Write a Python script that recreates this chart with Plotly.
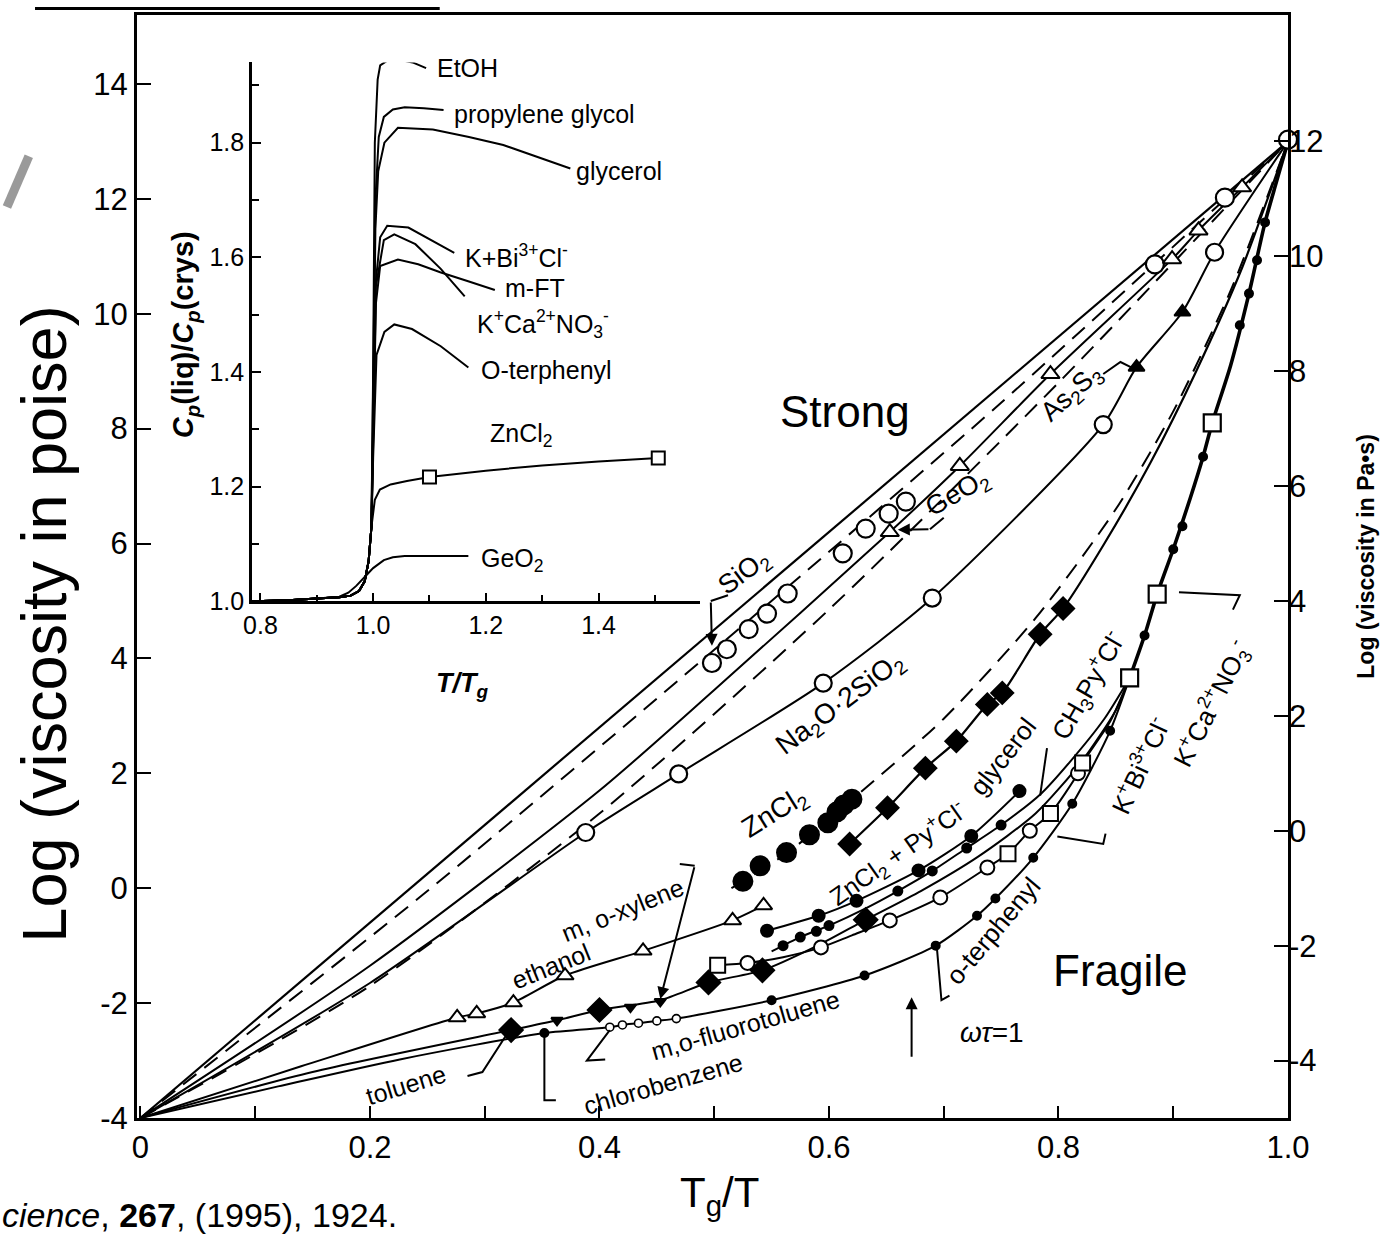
import plotly.graph_objects as go

# ---------------- tick values / labels ----------------
x_tick_vals = [0, 0.2, 0.4, 0.6, 0.8, 1.0]
x_tick_text = ["0", "0.2", "0.4", "0.6", "0.8", "1.0"]
x_minor_vals = [0.1, 0.3, 0.5, 0.7, 0.9]
y_poise_ticks = [-4, -2, 0, 2, 4, 6, 8, 10, 12, 14]
y_poise_text = ["-4", "-2", "0", "2", "4", "6", "8", "10", "12", "14"]
y_pas_ticks = [-4, -2, 0, 2, 4, 6, 8, 10, 12]
y_pas_text = ["-4", "-2", "0", "2", "4", "6", "8", "10", "12"]
inset_x_vals = [0.8, 1.0, 1.2, 1.4]
inset_x_text = ["0.8", "1.0", "1.2", "1.4"]
inset_x_minor = [0.9, 1.1, 1.3, 1.5]
inset_y_vals = [1.0, 1.2, 1.4, 1.6, 1.8]
inset_y_text = ["1.0", "1.2", "1.4", "1.6", "1.8"]
inset_y_minor = [1.1, 1.3, 1.5, 1.7, 1.9]

# ---------------- main plot data: x = Tg/T, y = log(viscosity / poise) ----------------
sio2_line_x = [0, 0.25, 0.5, 0.75, 1.0]
sio2_line_y = [-4, 0.25, 4.5, 8.75, 13]
sio2_pts_x = [0.498, 0.511, 0.530, 0.546, 0.564, 0.612, 0.632, 0.652, 0.667, 0.884, 0.945, 1.0]
sio2_pts_y = [3.92, 4.16, 4.51, 4.78, 5.13, 5.83, 6.26, 6.52, 6.73, 10.86, 12.02, 13.03]

dash_upper_x = [0, 0.25, 0.5, 0.75, 1.0]
dash_upper_y = [-4, -0.05, 4.15, 8.45, 13]

geo2_line_x = [0, 0.2, 0.4, 0.5, 0.653, 0.714, 0.793, 0.899, 0.922, 0.96, 1.0]
geo2_line_y = [-4, -1.35, 1.7, 3.45, 6.2, 7.35, 8.95, 10.95, 11.45, 12.2, 13]
geo2_pts_x = [0.653, 0.714, 0.793, 0.899, 0.922, 0.96]
geo2_pts_y = [6.2, 7.35, 8.95, 10.95, 11.45, 12.2]

dash_lower_x = [0, 0.2, 0.4, 0.6, 0.8, 1.0]
dash_lower_y = [-4, -1.7, 1.3, 4.85, 8.8, 13]

na2o_line_x = [0, 0.2, 0.388, 0.469, 0.595, 0.69, 0.839, 0.868, 0.908, 0.936, 1.0]
na2o_line_y = [-4, -1.65, 0.97, 1.99, 3.57, 5.05, 8.07, 9.07, 10.03, 11.07, 13]
na2o_pts_x = [0.388, 0.469, 0.595, 0.69, 0.839, 0.936]
na2o_pts_y = [0.97, 1.99, 3.57, 5.05, 8.07, 11.07]
as2s3_pts_x = [0.868, 0.908]
as2s3_pts_y = [9.07, 10.03]

zncl2_dash_x = [0.515, 0.525, 0.564, 0.62, 0.7, 0.78, 0.85, 0.9, 0.95, 1.0]
zncl2_dash_y = [0.0, 0.12, 0.62, 1.54, 2.95, 4.7, 6.6, 8.3, 10.4, 13]
zncl2_pts_x = [0.525, 0.540, 0.563, 0.583, 0.599, 0.607, 0.613, 0.620]
zncl2_pts_y = [0.12, 0.39, 0.62, 0.93, 1.14, 1.33, 1.45, 1.55]

glycerol_line_x = [0.618, 0.651, 0.684, 0.711, 0.738, 0.751, 0.784, 0.804, 0.84, 0.88, 0.92, 0.96, 1.0]
glycerol_line_y = [0.77, 1.40, 2.09, 2.56, 3.2, 3.4, 4.42, 4.87, 6.0, 7.4, 9.0, 10.8, 13]
glycerol_pts_x = [0.618, 0.651, 0.684, 0.711, 0.738, 0.751, 0.784, 0.804]
glycerol_pts_y = [0.77, 1.40, 2.09, 2.56, 3.2, 3.4, 4.42, 4.87]

zncl2py_x = [0.546, 0.591, 0.624, 0.678, 0.724, 0.766]
zncl2py_y = [-0.74, -0.48, -0.22, 0.31, 0.91, 1.69]

ethanol_line_x = [0, 0.14, 0.276, 0.293, 0.325, 0.370, 0.438, 0.516, 0.543]
ethanol_line_y = [-4, -3.1, -2.25, -2.18, -1.99, -1.52, -1.09, -0.56, -0.30]
ethanol_pts_x = [0.276, 0.293, 0.325, 0.370, 0.438, 0.516, 0.543]
ethanol_pts_y = [-2.25, -2.18, -1.99, -1.52, -1.09, -0.56, -0.30]

toluene_line_x = [0, 0.15, 0.323, 0.363, 0.4, 0.453, 0.495, 0.542, 0.59, 0.632, 0.68, 0.73, 0.78, 0.82, 0.85, 0.862]
toluene_line_y = [-4, -3.2, -2.47, -2.3, -2.12, -1.95, -1.64, -1.43, -1.0, -0.55, -0.05, 0.55, 1.3, 2.2, 3.1, 3.66]
toluene_dia_x = [0.323, 0.4, 0.495, 0.542, 0.632]
toluene_dia_y = [-2.47, -2.12, -1.64, -1.43, -0.55]
xylene_tri_x = [0.363, 0.427, 0.453]
xylene_tri_y = [-2.3, -2.07, -1.97]

ch3py_line_x = [0.55, 0.575, 0.6, 0.632, 0.66, 0.69, 0.72, 0.75, 0.785, 0.81, 0.84, 0.862]
ch3py_line_y = [-1.1, -0.85, -0.65, -0.35, -0.05, 0.3, 0.7, 1.1, 1.65, 2.2, 2.95, 3.66]
ch3py_pts_x = [0.56, 0.575, 0.589, 0.6, 0.66, 0.69, 0.72, 0.75]
ch3py_pts_y = [-1.0, -0.85, -0.75, -0.65, -0.05, 0.3, 0.7, 1.1]

kbi_line_x = [0.503, 0.529, 0.56, 0.593, 0.62, 0.653, 0.697, 0.738, 0.756, 0.775, 0.793, 0.817, 0.821, 0.845, 0.862]
kbi_line_y = [-1.34, -1.3, -1.2, -1.03, -0.82, -0.56, -0.16, 0.36, 0.6, 1.0, 1.3, 2.0, 2.18, 2.9, 3.66]
kbi_circ_x = [0.529, 0.593, 0.653, 0.697, 0.738, 0.775, 0.817]
kbi_circ_y = [-1.3, -1.03, -0.56, -0.16, 0.36, 1.0, 2.0]
kbi_sq_x = [0.503, 0.756, 0.793, 0.821]
kbi_sq_y = [-1.34, 0.6, 1.3, 2.18]

oter_line_x = [0, 0.12, 0.226, 0.352, 0.409, 0.42, 0.434, 0.45, 0.467, 0.55, 0.631, 0.693, 0.729, 0.745, 0.778, 0.812, 0.845, 0.862]
oter_line_y = [-4, -3.45, -2.98, -2.52, -2.42, -2.38, -2.35, -2.31, -2.27, -1.95, -1.52, -1.0, -0.48, -0.18, 0.53, 1.47, 2.74, 3.66]
oter_dot_x = [0.352, 0.55, 0.631, 0.693, 0.729, 0.745, 0.778, 0.812, 0.845]
oter_dot_y = [-2.52, -1.95, -1.52, -1.0, -0.48, -0.18, 0.53, 1.47, 2.74]
fluoro_x = [0.409, 0.42, 0.434, 0.45, 0.467]
fluoro_y = [-2.42, -2.38, -2.35, -2.31, -2.27]

kca_line_x = [0.862, 0.875, 0.886, 0.9, 0.915, 0.926, 0.934, 0.95, 0.966, 0.98, 0.99, 1.0]
kca_line_y = [3.66, 4.4, 5.12, 5.9, 6.8, 7.51, 8.1, 9.1, 10.35, 11.59, 12.3, 13]
kca_sq_x = [0.862, 0.886, 0.934]
kca_sq_y = [3.66, 5.12, 8.1]
kca_dot_x = [0.875, 0.9, 0.908, 0.926, 0.958, 0.966, 0.973, 0.98]
kca_dot_y = [4.4, 5.9, 6.3, 7.51, 9.8, 10.35, 10.93, 11.59]

# ---------------- inset data: x = T/Tg, y = Cp(liq)/Cp(crys) ----------------
base_x = [0.785, 0.85, 0.9, 0.94, 0.96, 0.975, 0.985, 0.992, 0.997]
base_y = [1.0, 1.002, 1.005, 1.007, 1.01, 1.018, 1.035, 1.07, 1.13]
etoh_x = base_x + [1.0, 1.003, 1.008, 1.0125, 1.025, 1.044, 1.07, 1.094]
etoh_y = base_y + [1.4, 1.8, 1.91, 1.935, 1.943, 1.945, 1.94, 1.93]
pg_x = base_x + [1.0, 1.004, 1.01, 1.019, 1.035, 1.056, 1.09, 1.125]
pg_y = base_y + [1.35, 1.7, 1.81, 1.845, 1.858, 1.862, 1.86, 1.857]
gly_x = base_x + [1.0, 1.004, 1.009, 1.02, 1.044, 1.106, 1.17, 1.231, 1.29, 1.35]
gly_y = base_y + [1.3, 1.65, 1.75, 1.8, 1.826, 1.823, 1.81, 1.796, 1.775, 1.755]
kbi_in_x = base_x + [1.0, 1.004, 1.0125, 1.025, 1.0625, 1.1, 1.144]
kbi_in_y = base_y + [1.3, 1.55, 1.635, 1.655, 1.652, 1.632, 1.608]
kca_in_x = base_x + [1.0, 1.005, 1.019, 1.0375, 1.075, 1.12, 1.1625]
kca_in_y = base_y + [1.3, 1.55, 1.63, 1.64, 1.623, 1.58, 1.532]
mft_x = base_x + [1.0, 1.005, 1.0125, 1.044, 1.08, 1.119, 1.17, 1.216]
mft_y = base_y + [1.3, 1.52, 1.585, 1.596, 1.588, 1.574, 1.558, 1.543]
oter_in_x = base_x + [1.0, 1.006, 1.02, 1.0375, 1.069, 1.12, 1.169]
oter_in_y = base_y + [1.25, 1.43, 1.47, 1.483, 1.475, 1.445, 1.408]
zn_in_x = base_x + [1.0, 1.003, 1.012, 1.031, 1.06, 1.1, 1.2, 1.3, 1.4, 1.506]
zn_in_y = base_y + [1.15, 1.177, 1.195, 1.204, 1.21, 1.217, 1.228, 1.237, 1.244, 1.25]
zn_in_sq_x = [1.1, 1.506]
zn_in_sq_y = [1.217, 1.25]
geo2_in_x = [0.785, 0.85, 0.9, 0.94, 0.956, 0.97, 0.9875, 1.0, 1.019, 1.035, 1.056, 1.1, 1.169]
geo2_in_y = [1.0, 1.002, 1.005, 1.008, 1.015, 1.027, 1.045, 1.058, 1.072, 1.077, 1.079, 1.079, 1.079]

SANS = "Liberation Sans, Arial, Helvetica, sans-serif"

fig = go.Figure()


def add_line(x, y, width=2.0, dash=None, shape="spline", xa="x", ya="y"):
    fig.add_trace(go.Scatter(x=x, y=y, mode="lines", xaxis=xa, yaxis=ya,
                             line=dict(color="black", width=width, dash=dash, shape=shape, smoothing=0.7),
                             hoverinfo="skip", showlegend=False))


def add_markers(x, y, symbol, size, filled, lw=2.0, xa="x", ya="y"):
    fig.add_trace(go.Scatter(x=x, y=y, mode="markers", xaxis=xa, yaxis=ya, cliponaxis=False,
                             marker=dict(symbol=symbol, size=size,
                                         color="black" if filled else "white",
                                         line=dict(color="black", width=lw)),
                             hoverinfo="skip", showlegend=False))


DASH = "17px,10px"
# lines of main plot
add_line(sio2_line_x, sio2_line_y, 2.2, shape="linear")
add_line(dash_upper_x, dash_upper_y, 2.0, dash=DASH)
add_line(geo2_line_x, geo2_line_y, 2.0)
add_line(dash_lower_x, dash_lower_y, 2.0, dash=DASH)
add_line(na2o_line_x, na2o_line_y, 2.0)
add_line(zncl2_dash_x, zncl2_dash_y, 2.0, dash=DASH)
add_line(glycerol_line_x, glycerol_line_y, 2.2)
add_line(zncl2py_x, zncl2py_y, 2.0)
add_line(ethanol_line_x, ethanol_line_y, 2.0)
add_line(toluene_line_x, toluene_line_y, 2.0)
add_line(ch3py_line_x, ch3py_line_y, 2.0)
add_line(kbi_line_x, kbi_line_y, 2.0)
add_line(oter_line_x, oter_line_y, 2.0)
add_line(kca_line_x, kca_line_y, 3.6)

# markers of main plot
add_markers(sio2_pts_x, sio2_pts_y, "circle", 18, False, 2.2)
add_markers(geo2_pts_x, geo2_pts_y, "triangle-up", 16, False, 2.0)
add_markers(na2o_pts_x, na2o_pts_y, "circle", 17, False, 2.2)
add_markers(as2s3_pts_x, as2s3_pts_y, "triangle-up", 14, True)
add_markers(zncl2_pts_x, zncl2_pts_y, "circle", 19, True)
add_markers(glycerol_pts_x, glycerol_pts_y, "diamond", 17, True)
add_markers(zncl2py_x, zncl2py_y, "circle", 12, True)
add_markers(ethanol_pts_x, ethanol_pts_y, "triangle-up", 15, False, 2.0)
add_markers(toluene_dia_x, toluene_dia_y, "diamond", 18, True)
add_markers(xylene_tri_x, xylene_tri_y, "triangle-down", 10, True)
add_markers(ch3py_pts_x, ch3py_pts_y, "circle", 9, True)
add_markers(kbi_circ_x, kbi_circ_y, "circle", 14, False, 2.0)
add_markers(kbi_sq_x, kbi_sq_y, "square", 15, False, 2.0)
add_markers(oter_dot_x, oter_dot_y, "circle", 8, True)
add_markers(fluoro_x, fluoro_y, "circle", 8, False, 1.6)
add_markers(kca_dot_x, kca_dot_y, "circle", 8, True)
add_markers(kca_sq_x, kca_sq_y, "square", 17, False, 2.2)

# inset curves
for cx, cy in [(etoh_x, etoh_y), (pg_x, pg_y), (gly_x, gly_y), (kbi_in_x, kbi_in_y),
               (kca_in_x, kca_in_y), (mft_x, mft_y), (oter_in_x, oter_in_y),
               (zn_in_x, zn_in_y), (geo2_in_x, geo2_in_y)]:
    add_line(cx, cy, 2.0, shape="linear", xa="x2", ya="y2")
add_markers(zn_in_sq_x, zn_in_sq_y, "square", 13, False, 2.0, xa="x2", ya="y2")

# ---------------- text labels ----------------
ann = []


def label(x, y, text, angle=0, size=26, xref="x", yref="y", xanchor="center", family=SANS):
    ann.append(dict(x=x, y=y, xref=xref, yref=yref, text=text, showarrow=False,
                    textangle=angle, xanchor=xanchor, yanchor="middle",
                    font=dict(family=family, size=size, color="black")))


label(0.527, 5.48, "SiO<sub>2</sub>", -37, 27)
label(0.7125, 6.87, "GeO<sub>2</sub>", -30, 27)
label(0.812, 8.6, "As<sub>2</sub>S<sub>3</sub>", -42, 27)
label(0.61, 3.2, "Na<sub>2</sub>O·2SiO<sub>2</sub>", -37, 28)
label(0.553, 1.3, "ZnCl<sub>2</sub>", -32, 28)
label(0.752, 2.3, "glycerol", -52, 26)
label(0.826, 3.52, "CH<sub>3</sub>Py<sup>+</sup>Cl<sup>-</sup>", -60, 26)
label(0.66, 0.6, "ZnCl<sub>2</sub> + Py<sup>+</sup>Cl<sup>-</sup>", -35, 25)
label(0.871, 2.13, "K<sup>+</sup>Bi<sup>3+</sup>Cl<sup>-</sup>", -65, 26)
label(0.934, 3.2, "K<sup>+</sup>Ca<sup>2+</sup>NO<sub>3</sub><sup>-</sup>", -63, 26)
label(0.743, -0.74, "o-terphenyl", -50, 26)
label(0.42, -0.38, "m, o-xylene", -22, 25)
label(0.358, -1.36, "ethanol", -22, 25)
label(0.231, -3.43, "toluene", -17, 25)
label(0.455, -3.4, "chlorobenzene", -16, 25)
label(0.527, -2.38, "m,o-fluorotoluene", -16, 25)
label(0.742, -2.52, "<i>ωτ</i>=1", 0, 28)
label(0.614, 8.29, "Strong", 0, 44)
label(0.854, -1.43, "Fragile", 0, 44)

# inset labels (left anchored)
for tx, ty, tt in [(1.11, 1.93, "EtOH"), (1.14, 1.85, "propylene glycol"), (1.356, 1.75, "glycerol"),
                   (1.159, 1.603, "K+Bi<sup>3+</sup>Cl<sup>-</sup>"), (1.231, 1.547, "m-FT"),
                   (1.181, 1.483, "K<sup>+</sup>Ca<sup>2+</sup>NO<sub>3</sub><sup>-</sup>"),
                   (1.1875, 1.404, "O-terphenyl"), (1.203, 1.29, "ZnCl<sub>2</sub>"),
                   (1.1875, 1.072, "GeO<sub>2</sub>")]:
    label(tx, ty, tt, 0, 25, xref="x2", yref="y2", xanchor="left")

# axis titles & other page text (paper coordinates)
label(-0.081, 0.448, "Log (viscosity in poise)", -90, 63, xref="paper", yref="paper")
label(1.067, 0.509, "<b>Log (viscosity in Pa•s)</b>", -90, 23, xref="paper", yref="paper")
label(0.5065, -0.07, "T<sub>g</sub>/T", 0, 42, xref="paper", yref="paper")
label(-0.119, -0.088, "<i>cience</i>, <b>267</b>, (1995), 1924.", 0, 34, xref="paper", yref="paper", xanchor="left")
label(0.042, 0.71, "<b><i>C<sub>p</sub></i>(liq)/<i>C<sub>p</sub></i>(crys)</b>", -90, 29, xref="paper", yref="paper")
label(0.2824, 0.393, "<b><i>T/T<sub>g</sub></i></b>", 0, 27, xref="paper", yref="paper")

# arrows (annotation arrows in data coordinates)
for (hx, hy, tx, ty) in [(0.498, 4.22, 0.497, 5.0), (0.66, 6.24, 0.688, 6.25),
                         (0.453, -1.93, 0.483, 0.39), (0.672, -1.9, 0.672, -2.96)]:
    ann.append(dict(x=hx, y=hy, ax=tx, ay=ty, xref="x", yref="y", axref="x", ayref="y",
                    showarrow=True, arrowhead=2, arrowsize=1.2, arrowwidth=2, arrowcolor="black", text=""))

fig.update_layout(annotations=ann)

# leader lines
shapes = []
for path in [
    [(0.512, 5.1), (0.497, 5.0)],
    [(0.7, 6.45), (0.688, 6.25)],
    [(0.839, 8.95), (0.854, 9.16), (0.863, 9.07)],
    [(0.79, 2.44), (0.784, 1.61)],
    [(0.841, 0.95), (0.839, 0.77), (0.799, 0.9)],
    [(0.952, 4.85), (0.958, 5.1), (0.905, 5.15)],
    [(0.694, -1.03), (0.698, -1.95), (0.705, -1.87)],
    [(0.47, 0.42), (0.483, 0.39)],
    [(0.285, -3.27), (0.298, -3.2), (0.318, -2.58)],
    [(0.352, -2.5), (0.352, -3.69), (0.362, -3.69)],
    [(0.409, -2.47), (0.389, -3.0), (0.405, -2.98)],
]:
    d = "M " + " L ".join(f"{px},{py}" for px, py in path)
    shapes.append(dict(type="path", path=d, xref="x", yref="y", line=dict(color="black", width=2)))
# slide decorations
shapes.append(dict(type="line", xref="paper", yref="paper", x0=-0.0886, x1=0.263, y0=1.006, y1=1.006,
                   line=dict(color="black", width=3)))
shapes.append(dict(type="line", xref="paper", yref="paper", x0=-0.113, x1=-0.094, y0=0.826, y1=0.872,
                   line=dict(color="#9a9a9a", width=9)))
fig.update_layout(shapes=shapes)

tick_font = dict(family=SANS, size=31, color="black")
inset_font = dict(family=SANS, size=25, color="black")
fig.update_layout(
    width=1395, height=1235, margin=dict(l=137, r=107, t=12, b=117),
    paper_bgcolor="white", plot_bgcolor="white", showlegend=False,
    xaxis=dict(domain=[0, 1], range=[-0.003, 1.0], tickmode="array", tickvals=x_tick_vals, ticktext=x_tick_text,
               ticks="inside", ticklen=12, tickwidth=2, tickcolor="black", showline=True, linewidth=3,
               linecolor="black", mirror=True, showgrid=False, zeroline=False, tickfont=tick_font,
               minor=dict(tickvals=x_minor_vals, ticks="inside", ticklen=12, tickwidth=2, tickcolor="black"),
               anchor="y"),
    yaxis=dict(domain=[0, 1], range=[-4, 15.2], tickmode="array", tickvals=y_poise_ticks, ticktext=y_poise_text,
               ticks="inside", ticklen=14, tickwidth=2, tickcolor="black", showline=True, linewidth=3,
               linecolor="black", mirror=True, showgrid=False, zeroline=False, tickfont=tick_font,
               anchor="x"),
    yaxis3=dict(overlaying="y", side="right", range=[-5, 14.2], tickmode="array", tickvals=y_pas_ticks,
                ticktext=y_pas_text, ticks="inside", ticklen=14, tickwidth=2, tickcolor="black", showline=False,
                showgrid=False, zeroline=False, tickfont=tick_font, anchor="x"),
    xaxis2=dict(domain=[0.0999, 0.4891], range=[0.785, 1.58], anchor="y2", tickmode="array",
                tickvals=inset_x_vals, ticktext=inset_x_text, ticks="inside", ticklen=9, tickwidth=2,
                tickcolor="black", showline=True, linewidth=2.5, linecolor="black", showgrid=False,
                zeroline=False, tickfont=inset_font,
                minor=dict(tickvals=inset_x_minor, ticks="inside", ticklen=7, tickwidth=2, tickcolor="black")),
    yaxis2=dict(domain=[0.4684, 0.957], range=[1.0, 1.94], anchor="x2", tickmode="array",
                tickvals=inset_y_vals, ticktext=inset_y_text, ticks="inside", ticklen=9, tickwidth=2,
                tickcolor="black", showline=True, linewidth=2.5, linecolor="black", showgrid=False,
                zeroline=False, tickfont=inset_font,
                minor=dict(tickvals=inset_y_minor, ticks="inside", ticklen=7, tickwidth=2, tickcolor="black")),
)
# attach an invisible trace to the right-hand axis so it is drawn
fig.add_trace(go.Scatter(x=[0.5], y=[0], yaxis="y3", mode="markers", marker=dict(opacity=0),
                         hoverinfo="skip", showlegend=False))

fig.write_html("out.html")
